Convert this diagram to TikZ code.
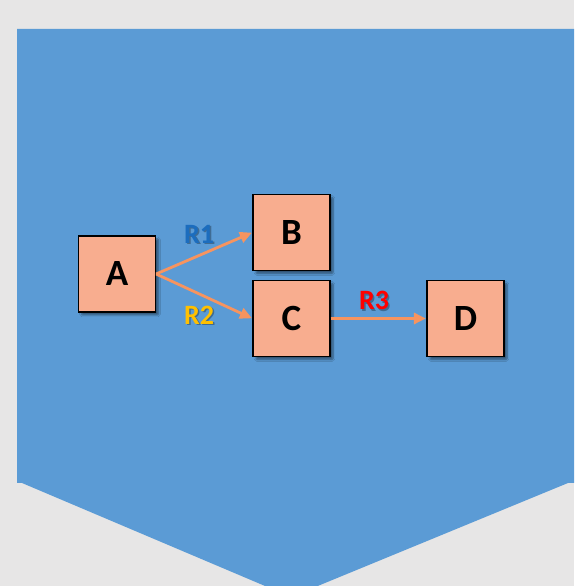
\documentclass[tikz,border=0pt]{standalone}
\usepackage{fontspec}
\setmainfont{Carlito}
\usetikzlibrary{arrows.meta,shadows.blur}
\definecolor{bggray}{HTML}{E7E6E6}
\definecolor{panelblue}{HTML}{5B9BD5}
\definecolor{boxfill}{HTML}{F8AD8F}
\definecolor{arrowcol}{HTML}{F7945F}
\definecolor{rone}{HTML}{1C6DBE}
\definecolor{rtwo}{HTML}{FFC000}
\definecolor{rthree}{HTML}{FF0000}
\tikzset{
  statebox/.style={draw=black, line width=1.2pt, fill=boxfill, minimum width=77pt, minimum height=76pt,
    inner sep=0pt, font=\fontsize{37}{40}\selectfont\bfseries,
    blur shadow={shadow xshift=3pt, shadow yshift=-3pt, shadow blur steps=6, shadow opacity=45, shadow blur extra rounding=1pt}},
  flow/.style={draw=arrowcol, line width=2.8pt, -{Triangle[length=12pt,width=11pt]}, shorten >=0.5pt},
  rlabel/.style={font=\fontsize{28}{30}\selectfont\bfseries, inner sep=0pt},
  rshadow/.style={rlabel, text=black, opacity=0.3}
}
\begin{document}
\begin{tikzpicture}[x=1pt,y=1pt]
\useasboundingbox (0,0) rectangle (574,586);
\fill[bggray] (0,0) rectangle (574,586);
\begin{scope}
\clip (0,0) rectangle (574,586);
\fill[panelblue] (17,557) -- (574,557) -- (574,103) -- (568,103) -- (291,-11) -- (22,103) -- (17,103) -- cycle;
\end{scope}
\node[statebox] (A) at (117,312) {A};
\node[statebox] (B) at (291.5,353.5) {B};
\node[statebox] (C) at (291.5,267.5) {C};
\node[statebox] (D) at (465.5,267.5) {D};
\draw[flow] (A.east) -- (B.west);
\draw[flow] (A.east) -- (C.west);
\draw[flow] (C.east) -- (D.west);
\node[rshadow] at (200.5,350.5) {R1};
\node[rlabel, text=rone] (r1) at (199,352) {R1};
\node[rshadow] at (200.5,269.5) {R2};
\node[rlabel, text=rtwo] (r2) at (199,271) {R2};
\node[rshadow] at (375.5,284) {R3};
\node[rlabel, text=rthree] (r3) at (374,285.5) {R3};
\end{tikzpicture}
\end{document}
